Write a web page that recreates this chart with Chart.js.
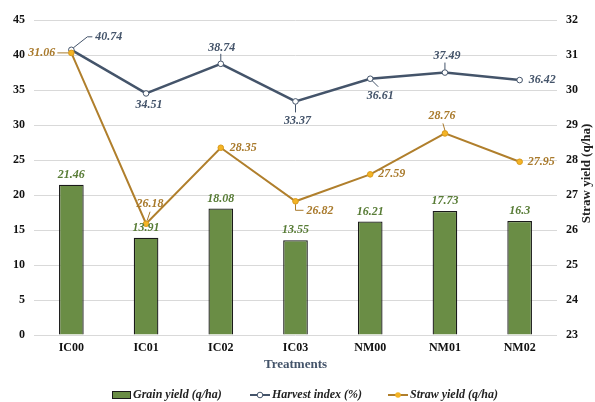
<!DOCTYPE html>
<html>
<head>
<meta charset="utf-8">
<script src="https://cdn.jsdelivr.net/npm/chart.js@4.4.1/dist/chart.umd.min.js"></script>
<style>
html,body{margin:0;padding:0;background:#fff;}
#wrap{width:595px;height:402px;position:relative;}
</style>
</head>
<body>
<div id="wrap"><canvas id="c" width="595" height="402"></canvas></div>
<script>
// ---- data ----
const categories = ['IC00','IC01','IC02','IC03','NM00','NM01','NM02'];
const grainYield = [21.46, 13.91, 18.08, 13.55, 16.21, 17.73, 16.3];
const harvestIndex = [40.74, 34.51, 38.74, 33.37, 36.61, 37.49, 36.42];
const strawYield = [31.06, 26.18, 28.35, 26.82, 27.59, 28.76, 27.95];
const leftTicks = [0, 5, 10, 15, 20, 25, 30, 35, 40, 45];
const rightTicks = [23, 24, 25, 26, 27, 28, 29, 30, 31, 32];
const seriesNames = ['Grain yield (q/ha)', 'Harvest index (%)', 'Straw yield (q/ha)'];
const xTitle = 'Treatments';
const rightTitle = 'Straw yield (q/ha)';

// ---- styles ----
const SERIF = '"Liberation Serif", "Times New Roman", serif';
const C_BAR = '#6a8d45', C_BAR_LBL = '#587c36';
const C_HI = '#44546a';
const C_ST = '#b07f2c', C_ST_PT = '#f4b425', C_ST_LBL = '#a97a2c';

// label placement (offsets from point, px) -- style only
const hiLabelPos = [
  {dx:24, dy:-13, align:'left', leader:[[2,-2],[16,-13],[21,-13]]},
  {dx:3, dy:11, align:'center'},
  {dx:1, dy:-16, align:'center', leader:[[0,-3],[0,-10]]},
  {dx:2, dy:19, align:'center', leader:[[0,3],[0,11]]},
  {dx:10, dy:17, align:'center', leader:[[2,2],[8,8]]},
  {dx:2, dy:-17, align:'center', leader:[[0,-3],[0,-10]]},
  {dx:9, dy:0, align:'left'}
];
const stLabelPos = [
  {dx:-16, dy:0, align:'right', leader:[[-3,0],[-14,0]]},
  {dx:4, dy:-20, align:'center', leader:[[1,-3],[4,-12]]},
  {dx:9, dy:0, align:'left'},
  {dx:11, dy:10, align:'left', leader:[[0,3],[0,9],[8,9]]},
  {dx:8, dy:0, align:'left'},
  {dx:-3, dy:-17, align:'center', leader:[[0,-3],[-2,-10]]},
  {dx:8, dy:0, align:'left'}
];

const labelPlugin = {
  id: 'labels',
  afterDatasetsDraw(chart) {
    const ctx = chart.ctx;
    ctx.save();
    ctx.font = 'italic bold 12px ' + SERIF;
    ctx.textBaseline = 'middle';
    const m0 = chart.getDatasetMeta(0);
    m0.data.forEach((el, i) => {
      ctx.fillStyle = C_BAR_LBL;
      ctx.textAlign = 'center';
      ctx.fillText(String(grainYield[i]), el.x, el.y - 10);
    });
    const drawSeries = (metaIdx, values, pos, color) => {
      const m = chart.getDatasetMeta(metaIdx);
      m.data.forEach((el, i) => {
        const p = pos[i];
        if (p.leader) {
          ctx.strokeStyle = color;
          ctx.lineWidth = 1;
          ctx.beginPath();
          p.leader.forEach((q, k) => {
            if (k === 0) ctx.moveTo(el.x + q[0], el.y + q[1]);
            else ctx.lineTo(el.x + q[0], el.y + q[1]);
          });
          ctx.stroke();
        }
        ctx.fillStyle = color;
        ctx.textAlign = p.align;
        ctx.fillText(String(values[i]), el.x + p.dx, el.y + p.dy);
      });
    };
    drawSeries(1, harvestIndex, hiLabelPos, C_HI);
    drawSeries(2, strawYield, stLabelPos, C_ST_LBL);
    ctx.restore();
  },
  afterDraw(chart) {
    const ctx = chart.ctx;
    ctx.save();
    ctx.font = 'bold 13px ' + SERIF;
    ctx.fillStyle = '#222';
    ctx.textAlign = 'center';
    ctx.textBaseline = 'middle';
    ctx.translate(587, (chart.chartArea.top + chart.chartArea.bottom) / 2 - 4);
    ctx.rotate(-Math.PI / 2);
    ctx.fillText(rightTitle, 0, 0);
    ctx.restore();

    // legend
    ctx.save();
    ctx.font = 'italic bold 12px ' + SERIF;
    ctx.textBaseline = 'middle';
    ctx.textAlign = 'left';
    const ly = 395;
    ctx.fillStyle = C_BAR;
    ctx.fillRect(112, ly - 4, 19, 8);
    ctx.strokeStyle = '#1a1a1a';
    ctx.lineWidth = 1;
    ctx.strokeRect(112.5, ly - 3.5, 18, 7);
    ctx.fillStyle = '#222';
    ctx.fillText(seriesNames[0], 133, ly);
    ctx.strokeStyle = C_HI; ctx.lineWidth = 2;
    ctx.beginPath(); ctx.moveTo(250, ly); ctx.lineTo(270, ly); ctx.stroke();
    ctx.beginPath(); ctx.arc(260, ly, 2.8, 0, Math.PI * 2);
    ctx.fillStyle = '#fff'; ctx.fill(); ctx.lineWidth = 1; ctx.stroke();
    ctx.fillStyle = '#222';
    ctx.fillText(seriesNames[1], 272, ly);
    ctx.strokeStyle = C_ST; ctx.lineWidth = 2;
    ctx.beginPath(); ctx.moveTo(388, ly); ctx.lineTo(408, ly); ctx.stroke();
    ctx.beginPath(); ctx.arc(398, ly, 2.8, 0, Math.PI * 2);
    ctx.fillStyle = C_ST_PT; ctx.fill();
    ctx.fillStyle = '#222';
    ctx.fillText(seriesNames[2], 410, ly);
    ctx.restore();
  }
};

new Chart(document.getElementById('c'), {
  data: {
    labels: categories,
    datasets: [
      {
        type: 'bar', label: seriesNames[0], data: grainYield, yAxisID: 'y',
        backgroundColor: C_BAR, borderColor: '#1a1a1a', borderWidth: 1.3,
        barPercentage: 0.33, categoryPercentage: 1, order: 3
      },
      {
        type: 'line', label: seriesNames[1], data: harvestIndex, yAxisID: 'y',
        borderColor: C_HI, borderWidth: 2.5, tension: 0,
        pointRadius: 2.8, pointBackgroundColor: '#fff', pointBorderColor: C_HI,
        pointBorderWidth: 1, order: 2
      },
      {
        type: 'line', label: seriesNames[2], data: strawYield, yAxisID: 'y1',
        borderColor: C_ST, borderWidth: 2, tension: 0,
        pointRadius: 2.8, pointBackgroundColor: C_ST_PT, pointBorderColor: '#d99a1c',
        pointBorderWidth: 1, order: 1
      }
    ]
  },
  options: {
    responsive: false,
    animation: false,
    devicePixelRatio: 1,
    layout: { padding: { left: 0, right: 0, top: 20, bottom: 30 } },
    plugins: { legend: { display: false }, tooltip: { enabled: false } },
    scales: {
      x: {
        grid: { display: false, drawTicks: false },
        border: { display: false },
        ticks: { color: '#111', font: { family: SERIF, weight: 'bold', size: 12 }, padding: 6 },
        title: { display: true, text: xTitle, color: C_HI, font: { family: SERIF, weight: 'bold', size: 13 }, padding: { top: 1, bottom: 0 } },
        afterFit(s) { s.height = 37; }
      },
      y: {
        position: 'left', min: 0, max: 45,
        afterBuildTicks(s) { s.ticks = leftTicks.map(v => ({ value: v })); },
        grid: { color: '#d9d9d9', lineWidth: 1, drawTicks: false },
        border: { display: false },
        ticks: { color: '#111', font: { family: SERIF, weight: 'bold', size: 12 }, padding: 9 },
        afterFit(s) { s.width = 34; }
      },
      y1: {
        position: 'right', min: 23, max: 32,
        afterBuildTicks(s) { s.ticks = rightTicks.map(v => ({ value: v })); },
        grid: { display: false, drawTicks: false },
        border: { display: false },
        ticks: { color: '#111', font: { family: SERIF, weight: 'bold', size: 12 }, padding: 9 },
        afterFit(s) { s.width = 38; }
      }
    }
  },
  plugins: [labelPlugin]
});
</script>
</body>
</html>
